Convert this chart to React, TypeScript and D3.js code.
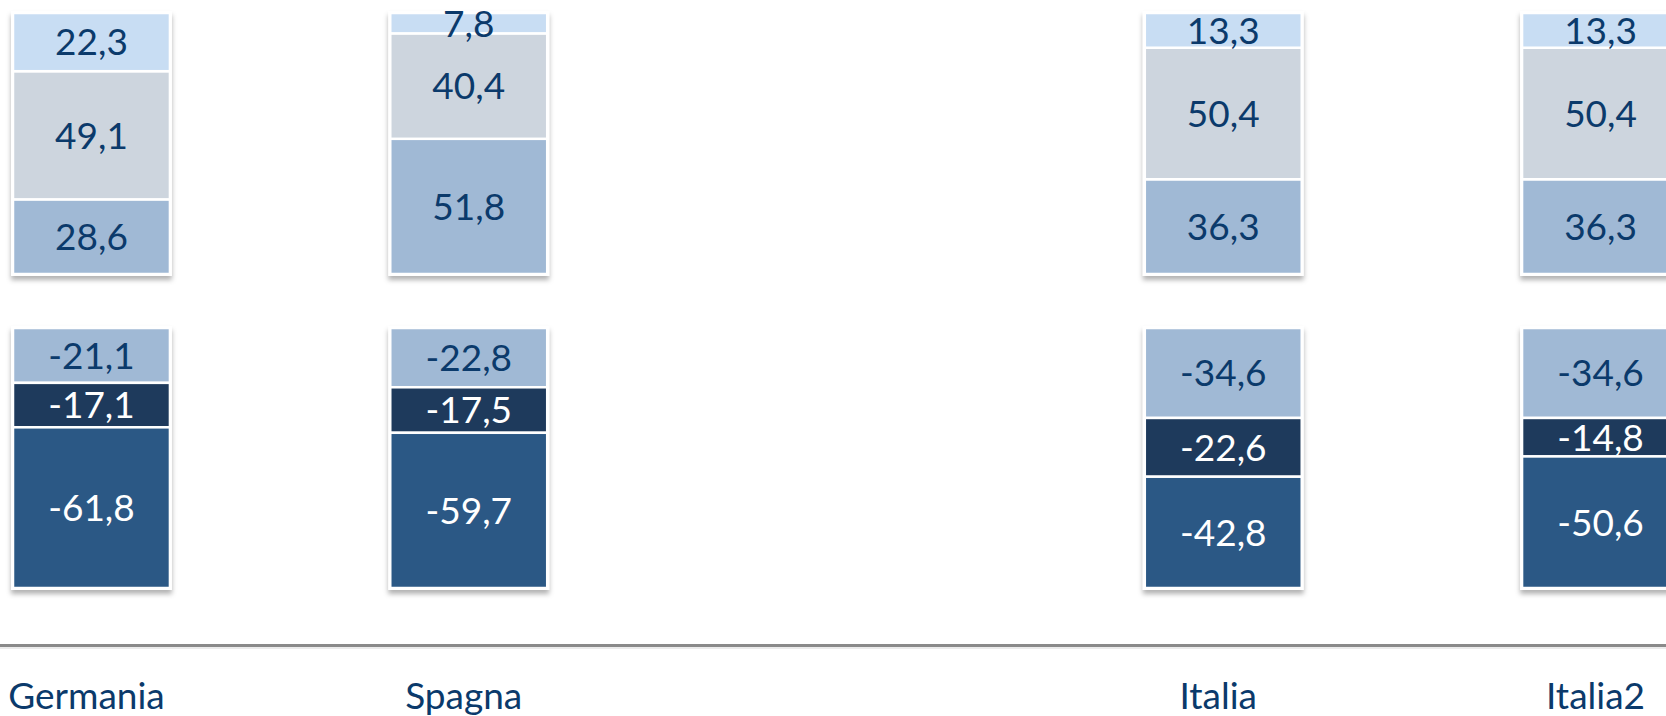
import React from 'react';
import * as d3 from 'd3';

// categories (the blank one is an empty slot between Spagna and Italia)
const categories = ['Germania', 'Spagna', '', 'Italia', 'Italia2'];

// upper stack, bottom to top
const posLow = [28.6, 51.8, null, 36.3, 36.3];
const posMid = [49.1, 40.4, null, 50.4, 50.4];
const posTop = [22.3, 7.8, null, 13.3, 13.3];

// lower stack, top to bottom
const negTop = [-21.1, -22.8, null, -34.6, -34.6];
const negMid = [-17.1, -17.5, null, -22.6, -14.8];
const negLow = [-61.8, -59.7, null, -42.8, -50.6];

const W = 1666;
const H = 716;

const posKeys = ['posLow', 'posMid', 'posTop'];
const negKeys = ['negTop', 'negMid', 'negLow'];

const fills: Record<string, string> = {
  posLow: '#a0b9d5',
  posMid: '#cdd5de',
  posTop: '#c8ddf3',
  negTop: '#a0b9d5',
  negMid: '#1e3a5c',
  negLow: '#2b5885',
};
const textFill: Record<string, string> = {
  posLow: '#0b3a6b',
  posMid: '#0b3a6b',
  posTop: '#0b3a6b',
  negTop: '#0b3a6b',
  negMid: '#ffffff',
  negLow: '#ffffff',
};

const fmt = (v: number) => v.toFixed(1).replace('.', ',');

const App = () => {
  const rows = categories
    .map((c, i) => ({
      cat: c,
      posLow: posLow[i], posMid: posMid[i], posTop: posTop[i],
      negTop: negTop[i], negMid: negMid[i], negLow: negLow[i],
    }))
    .filter(r => r.posLow !== null) as any[];

  const x = d3.scaleBand<string>()
    .domain(categories)
    .range([13, 1679])
    .paddingInner(0.584)
    .paddingOuter(0)
    .align(0);

  const yPos = d3.scaleLinear().domain([0, 100]).range([274, 13]);
  const yNeg = d3.scaleLinear().domain([-100, 0]).range([588, 328]);

  const posStack = d3.stack<any>().keys(posKeys)(rows);
  const negStack = d3.stack<any>().keys(negKeys).offset(d3.stackOffsetDiverging)(rows);

  const bw = x.bandwidth();
  const font = "Lato, 'Noto Sans', sans-serif";

  const segs: any[] = [];
  posStack.forEach(s => s.forEach(d => {
    segs.push({ key: s.key, cat: d.data.cat, y0: yPos(d[1]), y1: yPos(d[0]), v: d.data[s.key] });
  }));
  negStack.forEach(s => s.forEach(d => {
    segs.push({ key: s.key, cat: d.data.cat, y0: yNeg(d[1]), y1: yNeg(d[0]), v: d.data[s.key] });
  }));

  return (
    <svg width={W} height={H} style={{ position: 'absolute', left: 0, top: 0, background: '#fff' }}>
      <defs>
        <filter id="shadow" x="-10%" y="-10%" width="120%" height="130%">
          <feDropShadow dx="0" dy="4" stdDeviation="2.5" floodColor="#000" floodOpacity="0.3" />
        </filter>
      </defs>
      {/* bar backgrounds with shadow */}
      {rows.map(r => (
        <g key={'bg' + r.cat} filter="url(#shadow)">
          <rect x={x(r.cat)! - 2} y={yPos(100) - 2} width={bw + 4} height={yPos(0) - yPos(100) + 4} fill="#fff" />
          <rect x={x(r.cat)! - 2} y={yNeg(0) - 2} width={bw + 4} height={yNeg(-100) - yNeg(0) + 4} fill="#fff" />
        </g>
      ))}
      {segs.map((s, i) => (
        <rect key={'s' + i} x={x(s.cat)} y={s.y0} width={bw} height={s.y1 - s.y0}
          fill={fills[s.key]} stroke="#fff" strokeWidth={2.5} />
      ))}
      {segs.map((s, i) => (
        <text key={'t' + i} x={x(s.cat)! + bw / 2} y={(s.y0 + s.y1) / 2} dy="0.36em"
          textAnchor="middle" fontFamily={font} fontSize={37} fill={textFill[s.key]}>
          {fmt(s.v)}
        </text>
      ))}
      {/* axis line */}
      <line x1={0} x2={W} y1={645.5} y2={645.5} stroke="#8a8a8a" strokeWidth={3} />
      <line x1={0} x2={W} y1={648} y2={648} stroke="#d8d8d8" strokeWidth={1} />
      {rows.map(r => (
        <text key={'l' + r.cat} x={x(r.cat)! + bw / 2 - 5} y={709} textAnchor="middle"
          fontFamily={font} fontSize={37} fill="#0b3a6b">
          {r.cat}
        </text>
      ))}
    </svg>
  );
};

export default App;
